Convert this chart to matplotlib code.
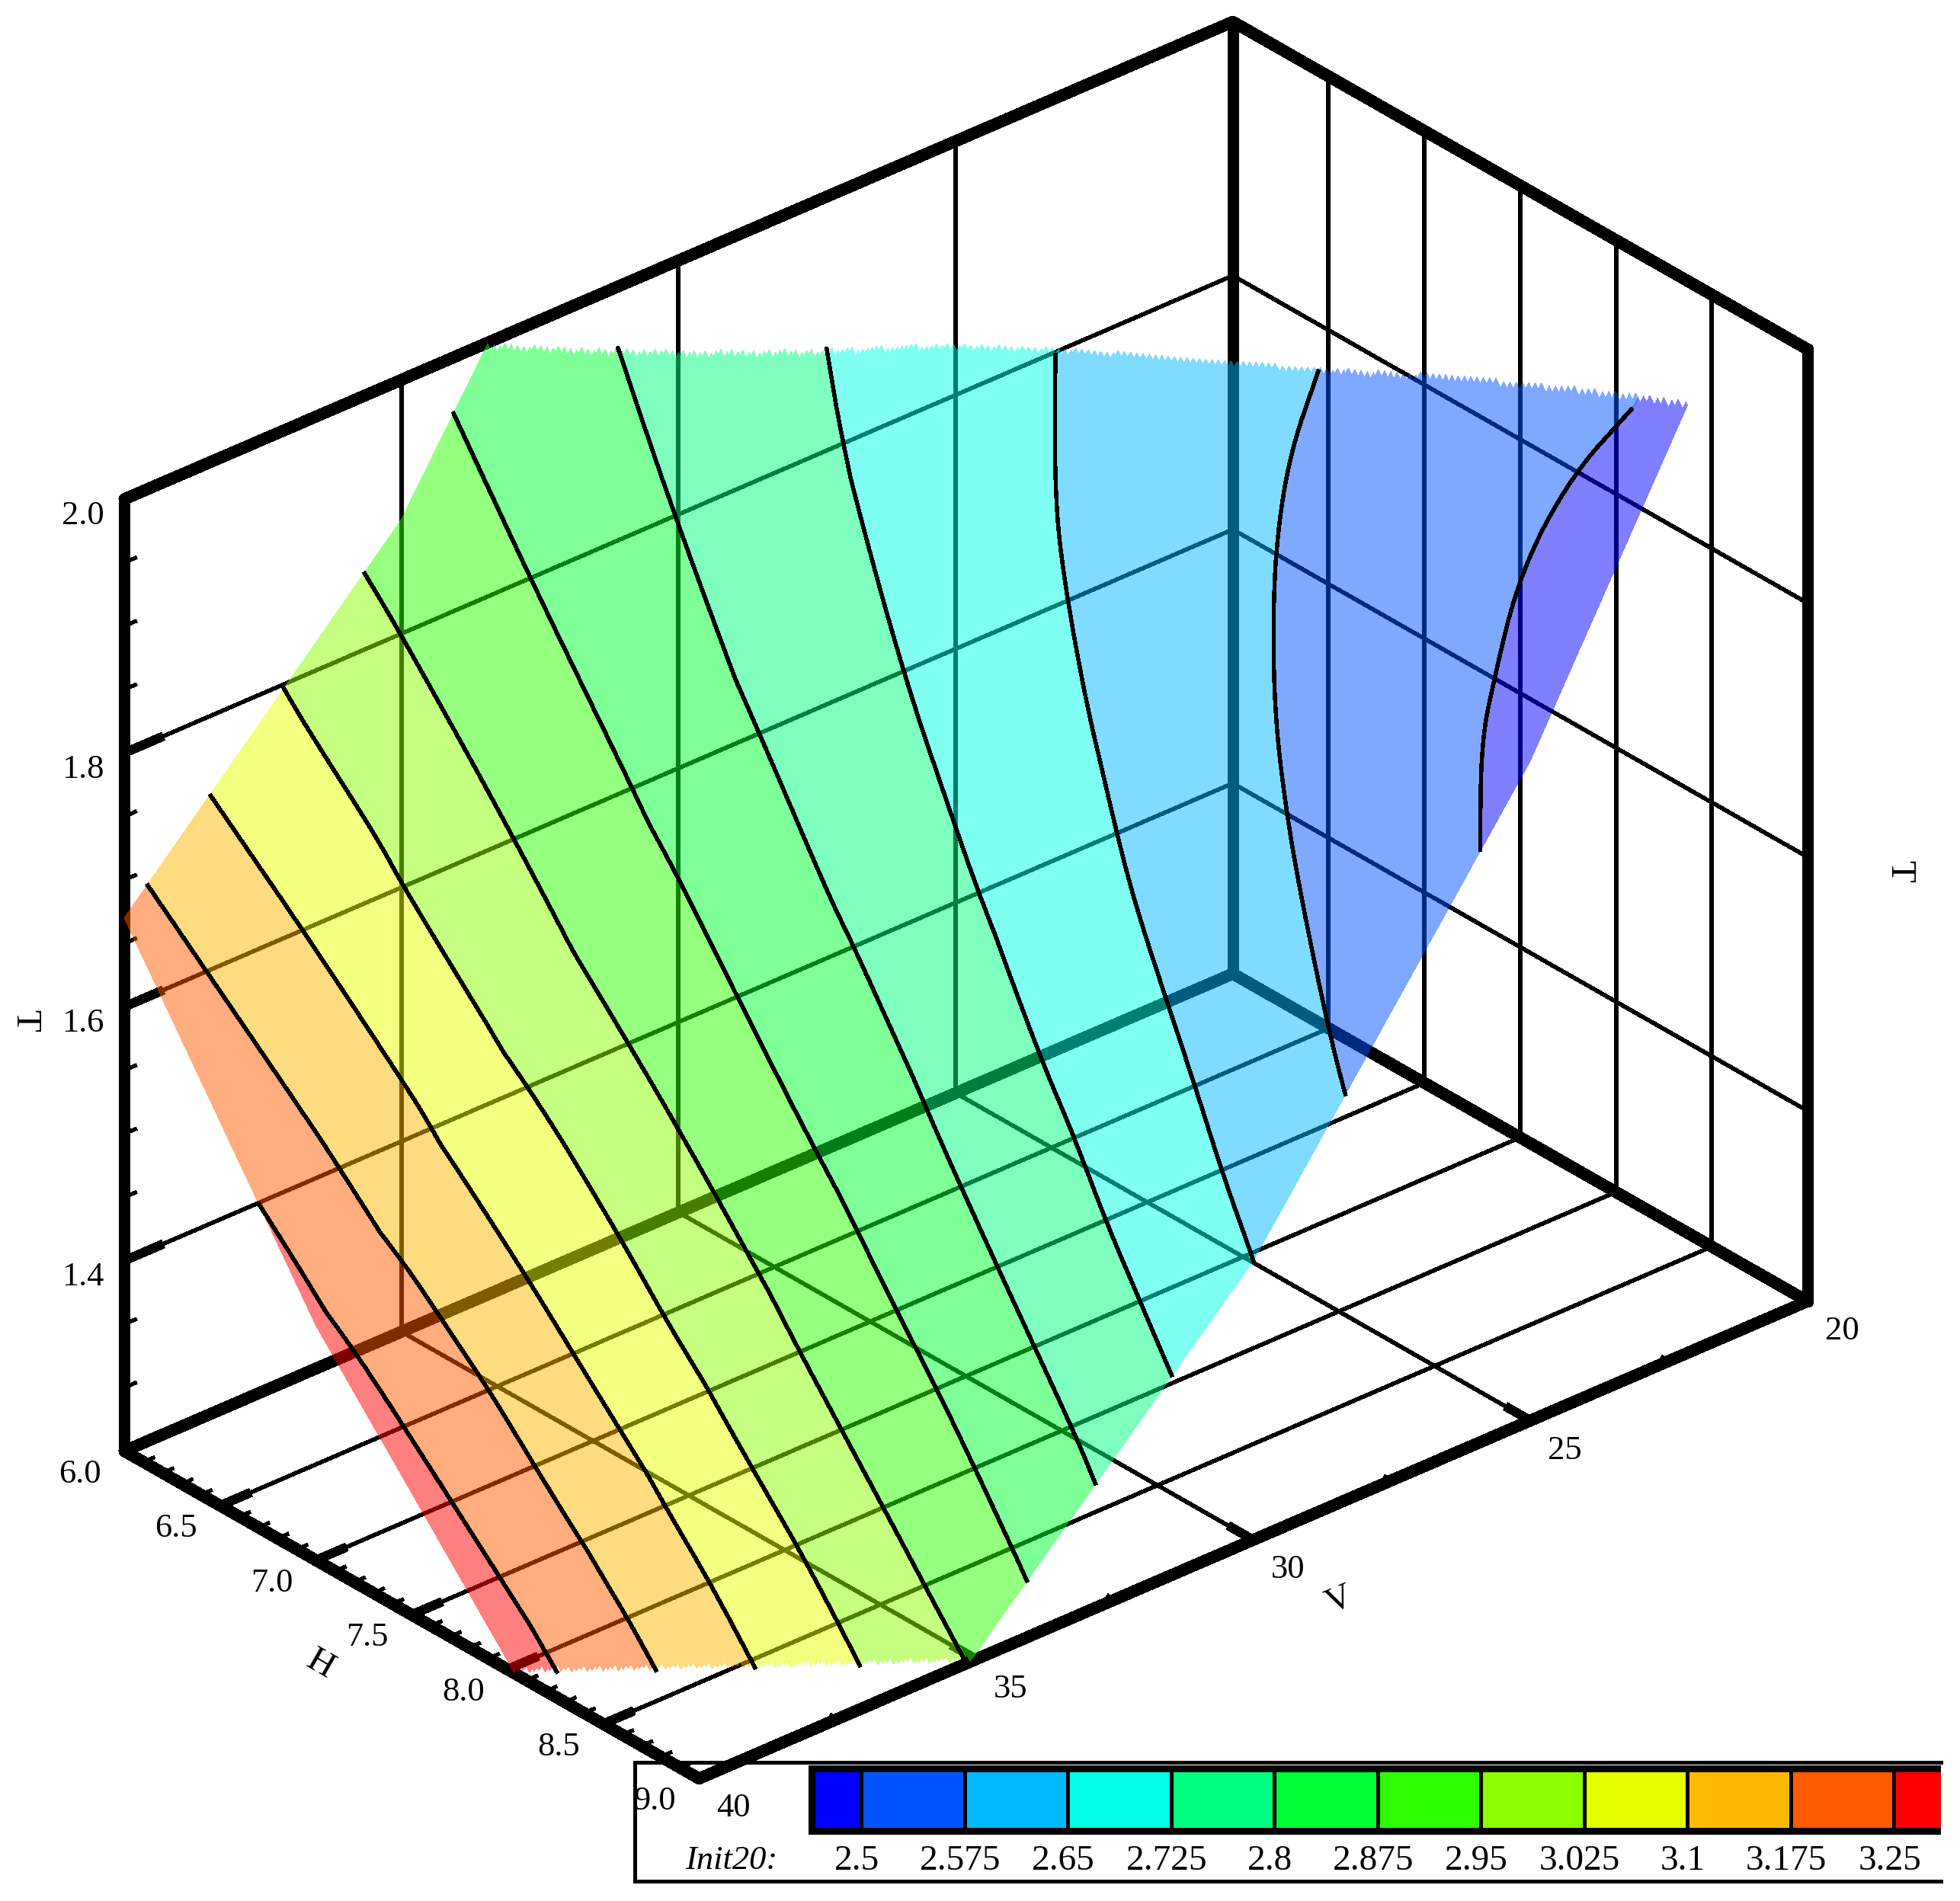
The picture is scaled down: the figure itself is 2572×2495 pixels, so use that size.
import numpy as np
import matplotlib
matplotlib.use("Agg")
import matplotlib.pyplot as plt
from matplotlib.path import Path
from mpl_toolkits.mplot3d import proj3d
from mpl_toolkits.mplot3d.art3d import Poly3DCollection


##### DATA #####

H_ticks = [6.0, 6.5, 7.0, 7.5, 8.0, 8.5, 9.0]
V_ticks = [20, 25, 30, 35, 40]
T_ticks = [1.4, 1.6, 1.8, 2.0]

# Surface height T on a coarse H x V table
H_nodes = np.array([6., 7., 8., 9.])
V_nodes = np.array([20., 25., 30., 35., 40.])
T_table = np.array([
    [3.00, 2.60, 2.24, 1.89, 1.67],
    [2.50, 2.20, 1.94, 1.66, 1.435],
    [2.35, 2.02, 1.72, 1.47, 1.257],
    [2.17, 1.77, 1.47, 1.255, 1.05]])

# Init20 contour lines, as (H, V) positions on the surface
levels = [2.5, 2.575, 2.65, 2.725, 2.8, 2.875, 2.95, 3.025, 3.1, 3.175, 3.25]
level_labels = ["2.5", "2.575", "2.65", "2.725", "2.8", "2.875", "2.95", "3.025", "3.1", "3.175", "3.25"]
line_H = [
    [8.85, 8.77, 8.75, 8.81, 8.87, 9.02, 9.05],
    [8.00, 8.04, 8.12, 8.22, 8.35, 8.50, 8.65, 8.88, 9.02, 9.06],
    [7.31, 7.52, 7.69, 7.91, 8.12, 8.26, 8.46, 8.64, 8.82, 8.99, 9.04],
    [6.79, 6.94, 7.39, 7.74, 7.92, 8.26, 8.45, 8.64, 8.83, 9.01, 9.06],
    [6.32, 6.66, 7.14, 7.55, 7.68, 8.09, 8.48, 8.88, 9.01, 9.05],
    [5.98, 6.41, 6.91, 7.16, 7.48, 7.90, 8.12, 8.32, 8.52, 8.74, 9.00, 9.04],
    [5.98, 6.17, 6.71, 7.28, 7.54, 7.74, 7.94, 8.16, 8.38, 8.59, 8.79, 8.98, 9.03],
    [5.98, 6.10, 6.42, 6.55, 7.12, 7.57, 7.80, 8.03, 8.25, 8.46, 8.67, 8.81],
    [5.98, 6.40, 6.83, 6.97, 7.41, 7.66, 7.89, 8.13, 8.33, 8.59],
    [5.98, 6.67, 6.83, 7.11, 7.27, 7.51, 7.76, 7.99, 8.20, 8.37],
    [6.62, 6.91, 7.12, 7.26, 7.39, 7.62, 7.86, 8.15]]
line_V = [
    [22.66, 23.45, 24.30, 25.02, 25.45, 25.97, 26.10],
    [25.37, 26.02, 26.54, 26.95, 27.36, 27.67, 27.91, 28.22, 28.36, 28.38],
    [27.73, 28.47, 28.83, 29.19, 29.44, 29.58, 29.70, 29.80, 29.92, 29.99, 30.03],
    [30.06, 30.29, 30.78, 31.03, 31.15, 31.30, 31.33, 31.41, 31.44, 31.47, 31.48],
    [32.20, 32.35, 32.48, 32.63, 32.64, 32.75, 32.79, 32.81, 32.85, 32.86],
    [34.06, 34.05, 33.99, 33.98, 34.03, 34.07, 34.06, 34.06, 34.04, 34.05, 34.08, 34.10],
    [35.68, 35.59, 35.42, 35.32, 35.29, 35.28, 35.28, 35.27, 35.24, 35.21, 35.19, 35.16, 35.17],
    [37.13, 37.08, 36.88, 36.85, 36.55, 36.48, 36.48, 36.44, 36.39, 36.33, 36.31, 36.31],
    [38.47, 38.14, 37.84, 37.76, 37.64, 37.60, 37.56, 37.51, 37.45, 37.43],
    [39.60, 39.06, 38.95, 38.78, 38.73, 38.65, 38.62, 38.58, 38.51, 38.49],
    [40.05, 39.87, 39.77, 39.73, 39.70, 39.65, 39.60, 39.54]]

band_colors = ["#0000ff", "#0055ff", "#00b9ff", "#00ffe6", "#00ff80", "#00ff32",
               "#2dff00", "#8cff00", "#e6ff00", "#ffb900", "#ff5a00", "#ff0000"]

H_lim = (6, 9)
V_lim = (40, 20)
T_lim = (1.25, 2)


##### HELPERS #####

def surfaceT(H, V):
    '''Bilinear read of the T table'''
    H = np.asarray(H, float)
    V = np.asarray(V, float)
    i = np.clip(np.searchsorted(H_nodes, H) - 1, 0, len(H_nodes) - 2)
    j = np.clip(np.searchsorted(V_nodes, V) - 1, 0, len(V_nodes) - 2)
    a = (H - H_nodes[i]) / (H_nodes[i + 1] - H_nodes[i])
    b = (V - V_nodes[j]) / (V_nodes[j + 1] - V_nodes[j])
    return ((1 - a) * (1 - b) * T_table[i, j] + a * (1 - b) * T_table[i + 1, j]
            + (1 - a) * b * T_table[i, j + 1] + a * b * T_table[i + 1, j + 1])


def toPixels(ax, H, V, T):
    x2, y2, _ = proj3d.proj_transform(H, V, T, ax.get_proj())
    return ax.transData.transform((x2, y2))


def label3d(H, V, T, text, **kwargs):
    '''Text at a data position of the 3D axes, in the figure layer'''
    px = toPixels(ax, H, V, T)
    fig.text(px[0] / W, px[1] / H_px, text, ha="center", va="center", color="black", **kwargs)


def cutCorners(xs, ys, rounds=2):
    '''Chaikin smoothing of a polyline, keeps both ends'''
    pts = np.column_stack([xs, ys])
    for _ in range(rounds):
        q = 0.75 * pts[:-1] + 0.25 * pts[1:]
        r = 0.25 * pts[:-1] + 0.75 * pts[1:]
        mid = np.empty((2 * len(q), 2))
        mid[0::2] = q
        mid[1::2] = r
        pts = np.vstack([pts[:1], mid, pts[-1:]])
    return pts[:, 0], pts[:, 1]


##### 3D AXES #####

W, H_px = 2572, 2495
fig = plt.figure(figsize=(W / 100, H_px / 100), dpi=100, facecolor="white")
plt.rcParams["font.family"] = ["Liberation Serif", "DejaVu Serif"]

side = 3600
ax = fig.add_axes([(W - side) / 2 / W, (H_px - side) / 2 / H_px, side / W, side / H_px],
                  projection="3d", proj_type="ortho", computed_zorder=False)
ax.set_xlim(*H_lim)
ax.set_ylim(*V_lim)
ax.set_zlim(*T_lim)
ax.view_init(elev=29.7, azim=-41.0, roll=0)
aspect = (0.5964, 1, 0.7463)
ax.set_box_aspect(aspect)
ax.set_axis_off()
ax.patch.set_visible(False)

# Fit the box onto the corners seen in the picture
target_a = np.array([99.5 * W / 1568, H_px - 1161 * H_px / 1521])
target_b = np.array([1446 * W / 1568, H_px - 1041 * H_px / 1521])
fig.canvas.draw()
a = toPixels(ax, 6, 40, 1.25)
b = toPixels(ax, 9, 20, 1.25)
ax.set_box_aspect(aspect, zoom=np.linalg.norm(target_b - target_a) / np.linalg.norm(b - a))
fig.canvas.draw()
shift = target_a - toPixels(ax, 6, 40, 1.25)
pos = ax.get_position()
ax.set_position([pos.x0 + shift[0] / W, pos.y0 + shift[1] / H_px, pos.width, pos.height])
fig.canvas.draw()

thin = dict(color="black", lw=3.2, antialiased=False, solid_capstyle="butt", zorder=1)
thick = dict(color="black", lw=10.5, antialiased=False, solid_capstyle="round", zorder=1.5)
minor = dict(color="black", lw=3.0, antialiased=False, solid_capstyle="butt", zorder=1.5)
major = dict(color="black", lw=8.0, antialiased=False, solid_capstyle="butt", zorder=1.5)


##### GRID AND BOX #####

Hmin, Hmax = H_lim
Vfront, Vback = V_lim
Tmin, Tmax = T_lim

for h in H_ticks[1:-1]:
    ax.plot([h, h], [Vback, Vback], [Tmin, Tmax], **thin)
    ax.plot([h, h], [Vfront, Vback], [Tmin, Tmin], **thin)
for v in V_ticks[1:-1]:
    ax.plot([Hmin, Hmin], [v, v], [Tmin, Tmax], **thin)
    ax.plot([Hmin, Hmax], [v, v], [Tmin, Tmin], **thin)
for t in T_ticks[:-1]:
    ax.plot([Hmin, Hmin], [Vfront, Vback], [t, t], **thin)
    ax.plot([Hmin, Hmax], [Vback, Vback], [t, t], **thin)

for s, e in [((Hmin, Vfront, Tmin), (Hmin, Vfront, Tmax)),
             ((Hmin, Vback, Tmin), (Hmin, Vback, Tmax)),
             ((Hmax, Vback, Tmin), (Hmax, Vback, Tmax)),
             ((Hmin, Vfront, Tmax), (Hmin, Vback, Tmax)),
             ((Hmin, Vback, Tmax), (Hmax, Vback, Tmax)),
             ((Hmin, Vfront, Tmin), (Hmin, Vback, Tmin)),
             ((Hmin, Vback, Tmin), (Hmax, Vback, Tmin)),
             ((Hmax, Vback, Tmin), (Hmax, Vfront, Tmin)),
             ((Hmax, Vfront, Tmin), (Hmin, Vfront, Tmin))]:
    ax.plot(*zip(s, e), **thick)

# Axis ticks on the outer edges
for h in H_ticks[1:-1]:
    ax.plot([h, h], [Vfront, Vfront - 0.55], [Tmin, Tmin], **major)
for h in np.arange(61, 90) / 10:
    ax.plot([h, h], [Vfront, Vfront - 0.2], [Tmin, Tmin], **minor)
for v in V_ticks[1:-1]:
    ax.plot([Hmax, Hmax - 0.13], [v, v], [Tmin, Tmin], **major)
for v in np.arange(22.5, 40, 5):
    ax.plot([Hmax, Hmax - 0.04], [v, v], [Tmin, Tmin], **minor)
for t in T_ticks[:-1]:
    ax.plot([Hmin, Hmin], [Vfront, Vfront - 0.7], [t, t], **major)
for t in np.arange(26, 40) / 20:
    ax.plot([Hmin, Hmin], [Vfront, Vfront - 0.22], [t, t], **minor)


##### SURFACE BANDS #####

grid_H, grid_V = np.meshgrid(np.linspace(6, 9, 361), np.linspace(20, 40, 361))
grid_T = surfaceT(grid_H, grid_V)
grid_xy = np.column_stack([grid_H.ravel(), grid_V.ravel()])

band = np.zeros(grid_H.size)
for hs, vs in zip(line_H, line_V):
    sh, sv = cutCorners(hs, vs)
    far = 46 if vs[0] > 40 else 19
    outline = list(zip(sh, sv)) + [(9.5, vs[-1]), (9.5, 46), (5, 46), (5, far), (hs[0], far)]
    band += Path(outline, closed=False).contains_points(grid_xy)
band = band.reshape(grid_H.shape)
band = np.ma.masked_where((grid_T > Tmax) | (grid_T < Tmin), band)

# Contour the bands on a scratch figure, then lift the polygons onto the surface
scratch_fig, scratch_ax = plt.subplots()
filled = scratch_ax.contourf(grid_H, grid_V, band, levels=np.arange(-0.5, 12), corner_mask=False)
for k, path in enumerate(filled.get_paths()):
    polys = []
    for p in path.to_polygons():
        polys.append(np.column_stack([p[:, 0], p[:, 1], surfaceT(p[:, 0], p[:, 1])]))
    if polys:
        ax.add_collection3d(Poly3DCollection(polys, facecolors=band_colors[k], alpha=0.5,
                                             linewidths=0, antialiaseds=False, zorder=2))
plt.close(scratch_fig)


##### CONTOUR LINES #####

for hs, vs in zip(line_H, line_V):
    sh, sv = cutCorners(hs, vs, rounds=3)
    knots = np.arange(len(sh))
    t = np.linspace(0, knots[-1], 6 * knots[-1])
    lh = np.interp(t, knots, sh)
    lv = np.interp(t, knots, sv)
    lt = surfaceT(lh, lv)
    off = (lt > Tmax) | (lt < Tmin) | (lh < Hmin) | (lh > Hmax) | (lv > Vfront)
    lh[off] = np.nan
    ax.plot(lh, lv, lt, color="black", lw=3.2, antialiased=False, zorder=3)


##### TEXTS #####

for h in H_ticks:
    label3d(h, Vfront + 0.8, Tmin - 0.003, f"{h:.1f}", fontsize=32)
for v in V_ticks:
    label3d(Hmax + 0.18, v, Tmin - 0.008, f"{v}", fontsize=32)
for t in T_ticks:
    label3d(Hmin, Vfront + 0.75, t + 0.001, f"{t:.1f}", fontsize=32)

label3d(Hmin, Vfront + 1.8, 1.623, "T", fontsize=34, rotation=-90)
label3d(Hmax + 0.48, Vback, 1.63, "T", fontsize=34, rotation=-90)
label3d(7.6, Vfront + 2, 1.257, "H", fontsize=34, rotation=-30)
label3d(Hmax + 0.45, 30, 1.241, "V", fontsize=34, rotation=23)


##### LEGEND #####

left, right, top, bottom = 508, 1553, 1410, 1505
lx = fig.add_axes([left / 1568, 1 - bottom / 1521, (right - left) / 1568, (bottom - top) / 1521])
lx.patch.set_visible(False)
per_level = 826 / 0.75
lx.set_xlim(2.5 + (left - 689) / per_level, 2.5 + (right - 689) / per_level)
lx.set_ylim(0, 1)
lx.set_xticks([])
lx.set_yticks([])
for side_name in ["left", "top", "bottom"]:
    lx.spines[side_name].set_linewidth(3.6)
lx.spines["right"].set_visible(False)

edges = [2.5 + (649 - 689) / per_level] + levels + [levels[-1] + 0.075]
for k in range(12):
    lx.bar(edges[k], 0.527, width=edges[k + 1] - edges[k], bottom=0.42, align="edge",
           color=band_colors[k], edgecolor="black", linewidth=3.5, antialiased=False)
lx.plot([edges[0], edges[0]], [0.42, 0.947], color="black", lw=6.5, solid_capstyle="projecting")
lx.plot([edges[0], edges[-1]], [0.947, 0.947], color="black", lw=6.5)
lx.plot([edges[0], edges[-1]], [0.42, 0.42], color="black", lw=6.5)

for lev, label in zip(levels, level_labels):
    lx.text(lev - 0.003, 0.17, label, fontsize=34, ha="center", va="center")
lx.text(2.5 + (585 - 689) / per_level, 0.17, "Init20:", fontsize=32, style="italic", ha="center", va="center")

fig.savefig("out.png", dpi=100, facecolor="white")
